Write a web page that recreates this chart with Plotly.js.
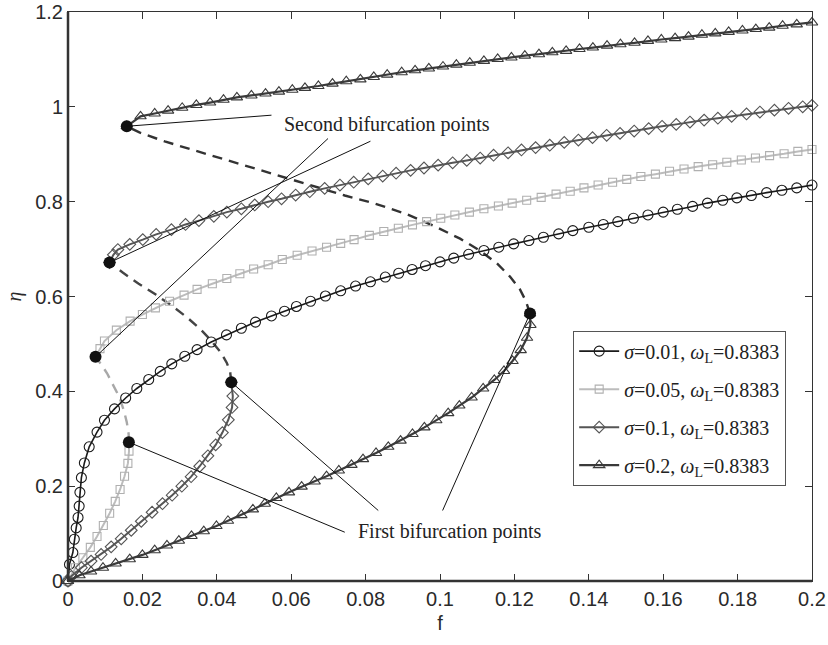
<!DOCTYPE html>
<html>
<head>
<meta charset="utf-8">
<script src="https://cdn.plot.ly/plotly-3.0.1.min.js"></script>
<style>html,body{margin:0;padding:0;background:#fff;}#chart{width:828px;height:645px;}</style>
</head>
<body>
<div id="chart"></div>
<script>
// ---------- data ----------
const seriesNames = ['σ=0.01', 'σ=0.05', 'σ=0.1', 'σ=0.2'];

// sigma = 0.01 (single stable branch)
const s001_f = [0,0.0004,0.0013,0.0017,0.0022,0.0027,0.0030,0.0032,0.0036,0.0044,0.0057,0.0078,0.0098,0.0125,0.0155,0.0185,0.0217,0.0248,0.0279,0.0314,0.0347,0.0385,0.0426,0.0466,0.0504,0.0547,0.0582,0.0614,0.0652,0.0692,0.0733,0.0773,0.0813,0.0853,0.0889,0.0925,0.0961,0.1000,0.1037,0.1077,0.1118,0.1158,0.1198,0.1239,0.1278,0.1319,0.1357,0.1400,0.1439,0.1478,0.1520,0.1559,0.1600,0.1638,0.1679,0.1719,0.1760,0.1798,0.1837,0.1878,0.1919,0.1959,0.2000];
const s001_eta = [0,0.035,0.060,0.088,0.112,0.134,0.158,0.187,0.218,0.249,0.283,0.314,0.339,0.363,0.386,0.406,0.425,0.442,0.458,0.474,0.488,0.504,0.519,0.533,0.546,0.559,0.569,0.579,0.590,0.601,0.612,0.622,0.631,0.641,0.649,0.657,0.665,0.673,0.681,0.689,0.697,0.704,0.711,0.718,0.725,0.732,0.739,0.746,0.752,0.758,0.765,0.772,0.778,0.784,0.790,0.797,0.803,0.808,0.813,0.819,0.824,0.829,0.835];

// sigma = 0.05
const s005_low_f = [0,0.0020,0.0040,0.0060,0.0078,0.0095,0.0112,0.0127,0.0140,0.0152,0.0161,0.0164,0.01636];
const s005_low_eta = [0,0.028,0.049,0.071,0.094,0.117,0.143,0.168,0.193,0.221,0.248,0.274,0.2927];
const s005_uns_f = [0.01636,0.0163,0.0158,0.0150,0.0138,0.0122,0.0105,0.0090,0.0080,0.0074];
const s005_uns_eta = [0.2927,0.310,0.335,0.360,0.388,0.414,0.438,0.456,0.466,0.4728];
const s005_up_f = [0.0074,0.0086,0.0098,0.0130,0.0167,0.0200,0.0235,0.0273,0.0312,0.0347,0.0388,0.0427,0.0462,0.0499,0.0538,0.0576,0.0616,0.0656,0.0695,0.0733,0.0769,0.0810,0.0849,0.0888,0.0926,0.0964,0.1002,0.1040,0.1079,0.1118,0.1157,0.1194,0.1233,0.1272,0.1312,0.1350,0.1387,0.1425,0.1464,0.1502,0.1540,0.1579,0.1617,0.1656,0.1694,0.1733,0.1771,0.1810,0.1848,0.1886,0.1925,0.1962,0.2000];
const s005_up_eta = [0.4728,0.490,0.506,0.529,0.548,0.562,0.576,0.590,0.603,0.615,0.627,0.638,0.648,0.658,0.667,0.678,0.687,0.696,0.704,0.712,0.720,0.729,0.737,0.744,0.751,0.758,0.765,0.772,0.778,0.785,0.791,0.797,0.803,0.809,0.816,0.822,0.829,0.835,0.841,0.847,0.853,0.858,0.864,0.869,0.874,0.878,0.883,0.888,0.892,0.897,0.901,0.906,0.910];

// sigma = 0.1
const s01_low_f = [0,0.0009,0.0036,0.0062,0.0089,0.0116,0.0143,0.0170,0.0197,0.0226,0.0254,0.0280,0.0306,0.0331,0.0354,0.0376,0.0397,0.0415,0.0431,0.0441,0.0443,0.0439];
const s01_low_eta = [0,0.010,0.028,0.042,0.056,0.072,0.089,0.107,0.126,0.145,0.163,0.181,0.200,0.220,0.242,0.264,0.287,0.313,0.340,0.366,0.390,0.4192];
const s01_uns_f = [0.0439,0.0436,0.0427,0.0411,0.0386,0.0356,0.0320,0.0280,0.0236,0.0190,0.0148,0.01117];
const s01_uns_eta = [0.4192,0.440,0.460,0.482,0.506,0.531,0.556,0.580,0.604,0.627,0.650,0.6717];
const s01_up_f = [0.01117,0.0122,0.0134,0.0166,0.0201,0.0237,0.0278,0.0316,0.0352,0.0392,0.0427,0.0466,0.0502,0.0538,0.0574,0.0612,0.0650,0.0690,0.0731,0.0768,0.0807,0.0846,0.0882,0.0921,0.0957,0.0995,0.1034,0.1072,0.1108,0.1144,0.1183,0.1219,0.1257,0.1295,0.1334,0.1372,0.1410,0.1448,0.1484,0.1522,0.1561,0.1597,0.1635,0.1672,0.1710,0.1747,0.1784,0.1824,0.1860,0.1899,0.1937,0.1975,0.2000];
const s01_up_eta = [0.6717,0.688,0.699,0.710,0.720,0.731,0.741,0.752,0.760,0.769,0.778,0.785,0.793,0.800,0.806,0.814,0.821,0.828,0.835,0.841,0.848,0.854,0.860,0.866,0.871,0.877,0.882,0.887,0.892,0.898,0.903,0.909,0.914,0.919,0.925,0.930,0.935,0.940,0.944,0.949,0.954,0.959,0.963,0.968,0.972,0.976,0.980,0.985,0.989,0.993,0.997,1.000,1.003];

// sigma = 0.2
const s02_low_f = [0,0.0031,0.0062,0.0094,0.0128,0.0166,0.0200,0.0233,0.0266,0.0298,0.0332,0.0365,0.0399,0.0430,0.0466,0.0497,0.0529,0.0560,0.0594,0.0628,0.0663,0.0695,0.0728,0.0762,0.0793,0.0828,0.0861,0.0894,0.0926,0.0958,0.0990,0.1022,0.1052,0.1085,0.1116,0.1146,0.1172,0.1195,0.1217,0.1234,0.1243,0.1242];
const s02_low_eta = [0,0.012,0.020,0.028,0.037,0.046,0.055,0.065,0.075,0.085,0.095,0.105,0.116,0.127,0.139,0.151,0.163,0.175,0.187,0.199,0.210,0.221,0.233,0.245,0.257,0.270,0.283,0.296,0.310,0.324,0.339,0.354,0.370,0.387,0.406,0.424,0.443,0.464,0.487,0.513,0.540,0.564];
const s02_uns_f = [0.1242,0.1231,0.1215,0.1188,0.1153,0.1107,0.1054,0.0986,0.0906,0.0825,0.0744,0.0663,0.0583,0.0502,0.0421,0.0340,0.0260,0.0192,0.0158];
const s02_uns_eta = [0.564,0.590,0.615,0.642,0.670,0.697,0.722,0.748,0.775,0.796,0.813,0.832,0.851,0.870,0.889,0.908,0.927,0.946,0.959];
const s02_up_f = [0.0158,0.0195,0.0233,0.0269,0.0307,0.0345,0.0382,0.0418,0.0454,0.0493,0.0531,0.0567,0.0603,0.0637,0.0673,0.0711,0.0748,0.0786,0.0822,0.0858,0.0897,0.0933,0.0970,0.1008,0.1044,0.1080,0.1118,0.1155,0.1192,0.1228,0.1266,0.1302,0.1339,0.1375,0.1411,0.1449,0.1485,0.1523,0.1559,0.1595,0.1632,0.1668,0.1704,0.1740,0.1776,0.1813,0.1849,0.1885,0.1921,0.1959,0.2000];
const s02_up_eta = [0.959,0.980,0.986,0.992,0.998,1.004,1.009,1.015,1.020,1.024,1.028,1.032,1.036,1.040,1.044,1.049,1.054,1.058,1.063,1.068,1.073,1.077,1.081,1.085,1.089,1.093,1.097,1.101,1.104,1.108,1.111,1.115,1.118,1.122,1.125,1.129,1.132,1.135,1.139,1.142,1.145,1.148,1.152,1.155,1.158,1.161,1.164,1.167,1.171,1.174,1.178];

// bifurcation points
const firstBif_f = [0.01636, 0.0439, 0.1242];
const firstBif_eta = [0.2927, 0.4192, 0.564];
const secondBif_f = [0.0074, 0.01117, 0.0158];
const secondBif_eta = [0.4728, 0.6717, 0.959];

// annotation labels and leader-line start points
const firstLabel = 'First bifurcation points';
const secondLabel = 'Second bifurcation points';
const firstLabelPos = [0.0775, 0.105];
const secondLabelPos = [0.0575, 0.9626];
const firstLeaderStart_f = [0.0744, 0.0834, 0.1007];
const firstLeaderStart_eta = [0.1029, 0.1487, 0.1487];
const secondLeaderStart_f = [0.0699, 0.0813, 0.0547];   // to sigma 0.05, 0.1, 0.2
const secondLeaderStart_eta = [0.9332, 0.9275, 0.9824];

const xTicks = [0,0.02,0.04,0.06,0.08,0.1,0.12,0.14,0.16,0.18,0.2];
const xTickText = ['0','0.02','0.04','0.06','0.08','0.1','0.12','0.14','0.16','0.18','0.2'];
const yTicks = [0,0.2,0.4,0.6,0.8,1,1.2];
const yTickText = ['0','0.2','0.4','0.6','0.8','1','1.2'];

// ---------- styles ----------
const styles = [
  {color:'#1a1a1a', symbol:'circle-open', size:10, width:1.6, mcolor:'#1a1a1a'},
  {color:'#bcbcbc', symbol:'square-open', size:8, width:2, mcolor:'#b0b0b0'},
  {color:'#555555', symbol:'diamond-open', size:9, width:2, mcolor:'#555555'},
  {color:'#3a3a3a', symbol:'triangle-up-open', size:10, width:2.2, mcolor:'#3a3a3a'}
];
const legendText = seriesNames.map(s => '<i>σ</i>' + s.slice(1) + ', <i>ω</i><sub>L</sub>=0.8383');

function stable(fx, ey, i, showLeg) {
  const st = styles[i];
  return {
    x: fx, y: ey, type:'scatter', mode:'lines+markers',
    name: legendText[i], legendgroup: 'g'+i, showlegend: showLeg,
    line: {color: st.color, width: st.width},
    marker: {symbol: st.symbol, size: st.size, color: st.mcolor, line: {color: st.mcolor, width: 1.1}},
    cliponaxis: false
  };
}
function unstable(fx, ey, color) {
  return {x: fx, y: ey, type:'scatter', mode:'lines', showlegend:false,
    line:{color: color, width: 2.4, dash:'10px,7px'}, hoverinfo:'skip'};
}

const traces = [
  unstable(s005_uns_f, s005_uns_eta, '#a8a8a8'),
  unstable(s01_uns_f, s01_uns_eta, '#444444'),
  unstable(s02_uns_f, s02_uns_eta, '#333333'),
  stable(s001_f, s001_eta, 0, true),
  stable(s005_low_f, s005_low_eta, 1, true),
  stable(s005_up_f, s005_up_eta, 1, false),
  stable(s01_low_f, s01_low_eta, 2, true),
  stable(s01_up_f, s01_up_eta, 2, false),
  stable(s02_low_f, s02_low_eta, 3, true),
  stable(s02_up_f, s02_up_eta, 3, false),
  {x: firstBif_f.concat(secondBif_f), y: firstBif_eta.concat(secondBif_eta), type:'scatter', mode:'markers',
   showlegend:false, marker:{color:'#111', size:12, symbol:'circle'}, cliponaxis:false}
];

const shapes = [];
for (let k = 0; k < 3; k++) {
  shapes.push({type:'line', xref:'x', yref:'y', x0:firstLeaderStart_f[k], y0:firstLeaderStart_eta[k],
    x1:firstBif_f[k], y1:firstBif_eta[k], line:{color:'#111', width:1}});
  shapes.push({type:'line', xref:'x', yref:'y', x0:secondLeaderStart_f[k], y0:secondLeaderStart_eta[k],
    x1:secondBif_f[k], y1:secondBif_eta[k], line:{color:'#111', width:1}});
}
// thicker bottom / left axis lines
shapes.push({type:'line', xref:'paper', yref:'paper', x0:0, x1:1, y0:0, y1:0, line:{color:'#333', width:2.5}});
shapes.push({type:'line', xref:'paper', yref:'paper', x0:0, x1:0, y0:0, y1:1, line:{color:'#333', width:2.5}});

const serif = 'Liberation Serif, Times New Roman, serif';
const sans = 'Liberation Sans, Arial, sans-serif';

const layout = {
  width: 828, height: 645,
  margin: {l:68, r:16, t:12, b:64},
  paper_bgcolor:'#fff', plot_bgcolor:'#fff',
  showlegend: true,
  legend: {x:0.679, y:0.44, xanchor:'left', yanchor:'top', bgcolor:'#fff',
    bordercolor:'#555', borderwidth:1, font:{family: serif, size:20, color:'#222'},
    tracegroupgap: 9, itemwidth: 40},
  xaxis: {range:[0,0.2], tickvals:xTicks, ticktext:xTickText, ticks:'inside', ticklen:7,
    tickcolor:'#333', showline:true, linecolor:'#333', linewidth:1, mirror:'ticks',
    showgrid:false, zeroline:false, tickfont:{family:sans, size:20, color:'#2a2a2a'},
    title:{text:'f', font:{family:sans, size:20, color:'#2a2a2a'}, standoff:6}},
  yaxis: {range:[0,1.2], tickvals:yTicks, ticktext:yTickText, ticks:'inside', ticklen:7,
    tickcolor:'#333', showline:true, linecolor:'#333', linewidth:1, mirror:'ticks',
    showgrid:false, zeroline:false, tickfont:{family:sans, size:20, color:'#2a2a2a'},
    title:{text:'<i>η</i>', font:{family:serif, size:20, color:'#2a2a2a'}, standoff:8}},
  shapes: shapes,
  annotations: [
    {x:firstLabelPos[0], y:firstLabelPos[1], xref:'x', yref:'y', text:firstLabel, showarrow:false,
     xanchor:'left', yanchor:'middle', font:{family:serif, size:20, color:'#222'}},
    {x:secondLabelPos[0], y:secondLabelPos[1], xref:'x', yref:'y', text:secondLabel, showarrow:false,
     xanchor:'left', yanchor:'middle', font:{family:serif, size:20, color:'#222'}}
  ]
};

Plotly.newPlot('chart', traces, layout, {displayModeBar:false, staticPlot:true});
</script>
</body>
</html>
